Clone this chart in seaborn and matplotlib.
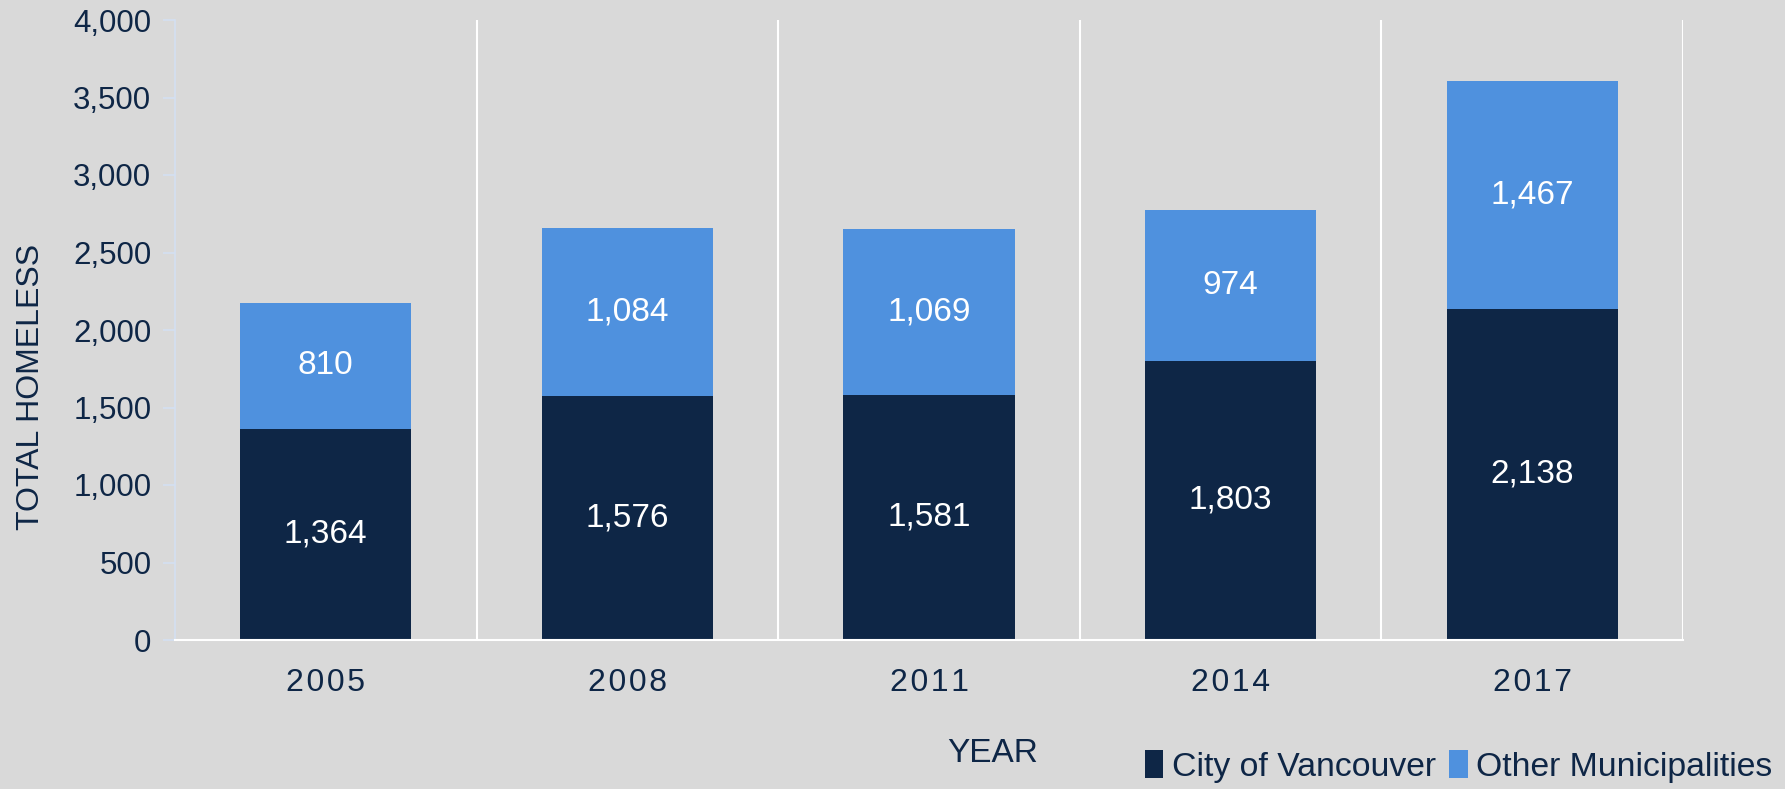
import pandas as pd
import matplotlib.pyplot as plt
import seaborn as sns
from matplotlib.patches import Patch

years = ['2005', '2008', '2011', '2014', '2017']
city = [1364, 1576, 1581, 1803, 2138]
other = [810, 1084, 1069, 974, 1467]
yticks = [0, 500, 1000, 1500, 2000, 2500, 3000, 3500, 4000]

df = pd.DataFrame({'year': years, 'city': city, 'other': other})
df['total'] = df['city'] + df['other']

navy = '#0E2646'
blue = '#4F91DE'
bg = '#D9D9D9'

sns.set_theme(style='white')
plt.rcParams['font.family'] = ['Liberation Sans', 'DejaVu Sans']

fig = plt.figure(figsize=(17.85, 7.89), dpi=100, facecolor=bg)
ax = fig.add_axes([175 / 1785, 1 - 640 / 789, (1683 - 175) / 1785, 620 / 789])
ax.set_facecolor(bg)

# stacked bars: totals first (light), city on top (dark)
sns.barplot(data=df, x='year', y='total', color=blue, width=0.567, saturation=1,
            linewidth=0, ax=ax)
sns.barplot(data=df, x='year', y='city', color=navy, width=0.567, saturation=1,
            linewidth=0, ax=ax)

for i, row in df.iterrows():
    ax.text(i, row['city'] / 2, f"{row['city']:,}", ha='center', va='center',
            color='white', fontsize=24)
    ax.text(i, row['city'] + row['other'] / 2, f"{row['other']:,}", ha='center',
            va='center', color='white', fontsize=24)

ax.set_xlim(-0.5, len(years) - 0.5)
ax.set_ylim(0, 4000)
ax.set_yticks(yticks)
ax.set_yticklabels([f'{v:,}' for v in yticks], fontsize=22.5, color=navy)
# slight letter spacing on the year labels
ax.set_xticks(range(len(years)))
ax.set_xticklabels(['\u200a'.join(y) for y in years], fontsize=23, color=navy)
ax.tick_params(axis='y', length=9, width=1.2, color='#D3E0F2', direction='out', pad=8, left=True)
ax.tick_params(axis='x', length=0, pad=20)

# category separators
for x in [0.5, 1.5, 2.5, 3.5, 4.5]:
    ax.axvline(x, color='white', lw=1.5, zorder=0)

for s in ['top', 'right']:
    ax.spines[s].set_visible(False)
ax.spines['left'].set_color('#D3E0F2')
ax.spines['left'].set_linewidth(1.2)
ax.spines['bottom'].set_color('white')
ax.spines['bottom'].set_linewidth(1.5)

ax.set_xlabel('')
ax.set_ylabel('')
fig.text(31 / 1785, 1 - 387 / 789, 'TOTAL HOMELESS', rotation=90, ha='center', va='center',
         fontsize=23, color=navy)
fig.text(993 / 1785, 1 - 754 / 789, 'YEAR', ha='center', va='center',
         fontsize=24, color=navy)

handles = [Patch(facecolor=navy, edgecolor='none', label='City of Vancouver'),
           Patch(facecolor=blue, edgecolor='none', label='Other Municipalities')]
fig.legend(handles=handles, loc='lower right', bbox_to_anchor=(1796 / 1785, -0.022), ncol=2,
           frameon=False, handlelength=0.55, handleheight=0.9, handletextpad=0.25,
           columnspacing=0.4, labelcolor=navy, borderpad=0.2, prop={'size': 24.3})

fig.savefig('out.png', dpi=100, facecolor=bg)
